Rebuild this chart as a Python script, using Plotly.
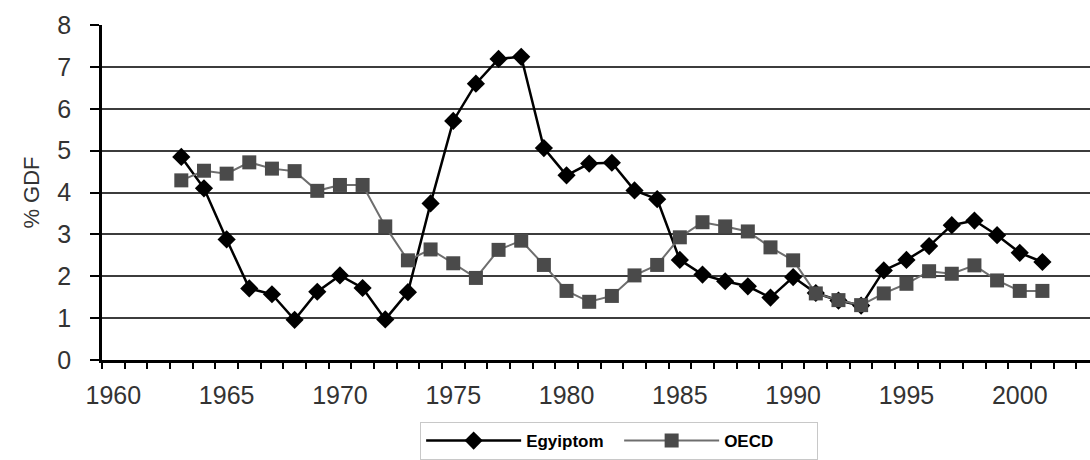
import plotly.graph_objects as go

years = list(range(1963, 2002))
egypt = [4.85, 4.10, 2.88, 1.71, 1.57, 0.96, 1.63, 2.02, 1.72, 0.97,
         1.62, 3.74, 5.71, 6.60, 7.19, 7.24, 5.06, 4.41, 4.69, 4.71,
         4.05, 3.84, 2.39, 2.04, 1.88, 1.76, 1.49, 1.98, 1.60, 1.42,
         1.30, 2.14, 2.39, 2.72, 3.22, 3.33, 2.98, 2.56, 2.34]
oecd = [4.29, 4.52, 4.45, 4.72, 4.57, 4.51, 4.04, 4.18, 4.18, 3.19,
        2.38, 2.64, 2.31, 1.96, 2.63, 2.85, 2.27, 1.65, 1.39, 1.53,
        2.02, 2.27, 2.93, 3.29, 3.19, 3.07, 2.69, 2.38, 1.59, 1.43,
        1.31, 1.59, 1.82, 2.12, 2.06, 2.26, 1.90, 1.65, 1.65]
x_ticks = [1960, 1965, 1970, 1975, 1980, 1985, 1990, 1995, 2000]
y_ticks = [0, 1, 2, 3, 4, 5, 6, 7, 8]

font_fam = "Liberation Sans, Arial, sans-serif"

fig = go.Figure()
fig.add_trace(go.Scatter(
    x=years, y=egypt, name="Egyiptom", mode="lines+markers",
    line=dict(color="#000000", width=2.5),
    marker=dict(symbol="diamond", size=14, color="#000000"),
))
fig.add_trace(go.Scatter(
    x=years, y=oecd, name="OECD", mode="lines+markers",
    line=dict(color="#6e6e6e", width=2),
    marker=dict(symbol="square", size=14, color="#4a4a4a"),
))

fig.update_layout(
    width=1090, height=460,
    margin=dict(l=102, r=0, t=25, b=95),
    paper_bgcolor="white", plot_bgcolor="white",
    font=dict(family=font_fam, color="#333333"),
    showlegend=True,
    legend=dict(
        orientation="h", x=0.322, y=-0.185, xanchor="left", yanchor="top",
        bordercolor="#c8c8c8", borderwidth=1,
        font=dict(family="Liberation Sans Narrow, " + font_fam, size=17,
                  color="#000000", weight="bold"),
        itemwidth=95, entrywidth=88,
    ),
)

fig.update_xaxes(
    range=[1959.5, 2003.1], tickmode="array", tickvals=x_ticks,
    ticktext=[str(v) for v in x_ticks],
    ticks="", showgrid=False, zeroline=False, automargin=False,
    showline=True, linecolor="#000000", linewidth=2.5,
    tickfont=dict(size=25, color="#333333"),
    ticklabelstandoff=11,
    minor=dict(ticks="outside", ticklen=6, tickwidth=1.5, tickcolor="#000000",
               tickmode="linear", tick0=1959.5, dtick=1, showgrid=False),
)
fig.update_yaxes(
    range=[0, 8], tickmode="array", tickvals=y_ticks,
    ticks="outside", ticklen=9, tickwidth=2, tickcolor="#000000",
    showline=True, linecolor="#000000", linewidth=2.5, automargin=False,
    showgrid=True, gridcolor="#3c3c3c", gridwidth=2, zeroline=False,
    tickfont=dict(size=25, color="#333333"),
    ticklabelstandoff=14,
    title=dict(text="% GDF", font=dict(size=22, color="#333333"), standoff=12),
)

fig.write_html("out.html", config={"displayModeBar": False},
               post_script="document.body.style.margin='0px';document.body.style.overflow='hidden';")
